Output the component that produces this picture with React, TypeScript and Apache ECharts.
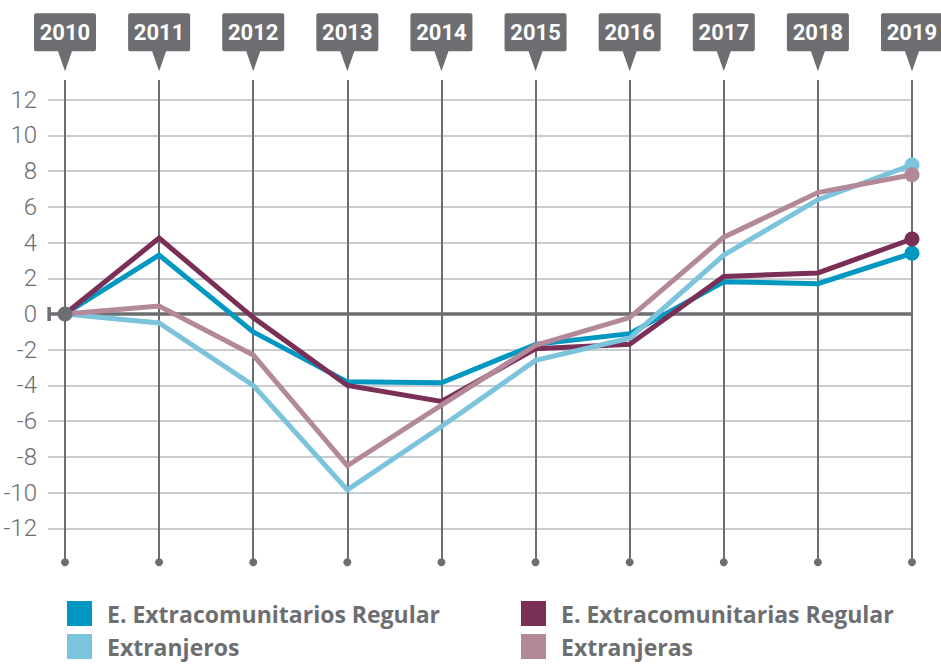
import React, { useEffect, useRef } from "react";
import * as echarts from "echarts";

const years = [2010, 2011, 2012, 2013, 2014, 2015, 2016, 2017, 2018, 2019];
const extracomunitariosRegular = [0, 3.3, -1.0, -3.8, -3.85, -1.7, -1.1, 1.8, 1.7, 3.4];
const extracomunitariasRegular = [0, 4.25, -0.2, -4.0, -4.9, -1.95, -1.7, 2.1, 2.3, 4.2];
const extranjeros = [0, -0.5, -4.0, -9.85, -6.3, -2.6, -1.35, 3.3, 6.4, 8.35];
const extranjeras = [0, 0.45, -2.3, -8.5, -5.1, -1.75, -0.2, 4.3, 6.8, 7.8];
const yTicks = [-12, -10, -8, -6, -4, -2, 0, 2, 4, 6, 8, 10, 12];

const GREY = "#6d6e71";
const LIGHT = "#c9cdd2";
const X_MIN = 2010 - 17 / 94.11;
const X_MAX = 2019;
const V_TOP = 13.1;
const V_BOTTOM = -13.9;
const PIN_Y = 13.6;

const seriesDefs = [
  { name: "E. Extracomunitarios Regular", color: "#0098c1", data: extracomunitariosRegular },
  { name: "E. Extracomunitarias Regular", color: "#7a2f56", data: extracomunitariasRegular },
  { name: "Extranjeros", color: "#7cc3dc", data: extranjeros },
  { name: "Extranjeras", color: "#b38898", data: extranjeras },
];

const legendPos: Record<string, [number, number]> = {
  "E. Extracomunitarios Regular": [62, 596],
  Extranjeros: [62, 629],
  "E. Extracomunitarias Regular": [516, 596],
  Extranjeras: [516, 629],
};

export default function App() {
  const ref = useRef<HTMLDivElement>(null);
  useEffect(() => {
    if (!ref.current) return;
    const chart = echarts.init(ref.current, null, { renderer: "svg" });

    const gridLines = yTicks
      .filter((t) => t !== 0)
      .map((t) => [{ coord: [X_MIN, t] }, { coord: [X_MAX, t] }]);
    const vertLines = years.map((y) => [{ coord: [y, V_TOP] }, { coord: [y, V_BOTTOM] }]);

    const lineSeries = seriesDefs.map((s) => ({
      name: s.name,
      type: "line",
      z: 5,
      symbol: "circle",
      showAllSymbol: true,
      lineStyle: { color: s.color, width: 5, join: "miter" },
      itemStyle: { color: s.color, opacity: 1 },
      data: s.data.map((v, i) =>
        i === s.data.length - 1
          ? { value: [years[i], v], symbol: "circle", symbolSize: 15 }
          : { value: [years[i], v], symbol: "none", symbolSize: 0 }
      ),
    }));

    const legends = seriesDefs.map((s) => ({
      left: legendPos[s.name][0],
      top: legendPos[s.name][1],
      itemWidth: 25,
      itemHeight: 25,
      padding: [5, 5, 0, 5],
      icon: "rect",
      data: [s.name],
      textStyle: {
        color: GREY,
        fontSize: 23,
        lineHeight: 24,
        fontWeight: "bold",
        fontFamily: "'Open Sans', sans-serif",
        padding: [0, 0, 0, 10],
      },
    }));

    chart.setOption({
      animation: false,
      backgroundColor: "#ffffff",
      grid: { left: 48, right: 29, top: 64, bottom: 100 },
      xAxis: {
        type: "value",
        min: X_MIN,
        max: X_MAX,
        show: false,
        splitLine: { show: false },
      },
      yAxis: {
        type: "value",
        min: -14,
        max: 14,
        interval: 2,
        axisLine: { show: false },
        axisTick: { show: false },
        splitLine: { show: false },
        axisLabel: {
          margin: 11,
          color: GREY,
          fontSize: 24,
          fontWeight: 300,
          fontFamily: "Roboto, sans-serif",
          formatter: (v: number) => (yTicks.indexOf(v) >= 0 ? String(v) : ""),
        },
      },
      legend: legends,
      series: [
        {
          name: "hgrid",
          type: "line",
          data: [],
          z: 1,
          markLine: {
            silent: true,
            symbol: "none",
            label: { show: false },
            lineStyle: { color: LIGHT, width: 2, type: "solid" },
            data: gridLines,
          },
        },
        {
          name: "vgrid",
          type: "line",
          data: [],
          z: 2,
          markLine: {
            silent: true,
            symbol: "none",
            label: { show: false },
            lineStyle: { color: GREY, width: 2, type: "solid" },
            data: vertLines,
          },
        },
        {
          name: "zero",
          type: "line",
          data: [],
          z: 3,
          markLine: {
            silent: true,
            symbol: "none",
            label: { show: false },
            lineStyle: { color: GREY, width: 3.5, type: "solid" },
            data: [[{ coord: [X_MIN, 0] }, { coord: [X_MAX, 0] }]],
          },
        },
        {
          name: "zeroCap",
          type: "scatter",
          z: 3,
          symbol: "rect",
          symbolSize: [3.5, 14],
          itemStyle: { color: GREY, opacity: 1 },
          data: [[X_MIN + 0.012, 0]],
        },
        {
          name: "dots",
          type: "scatter",
          z: 3,
          symbol: "circle",
          symbolSize: 8,
          itemStyle: { color: GREY, opacity: 1 },
          data: years.map((y) => [y, V_BOTTOM]),
        },
        {
          name: "pins",
          type: "scatter",
          z: 4,
          clip: false,
          symbol: "path://M2,0 H60 Q62,0 62,2 V36 Q62,38 60,38 H38 L31,58 L24,38 H2 Q0,38 0,36 V2 Q0,0 2,0 Z",
          symbolSize: [62, 58],
          symbolOffset: [0, "-50%"],
          itemStyle: { color: GREY, opacity: 1 },
          label: {
            show: true,
            position: "inside",
            offset: [0, -10],
            color: "#ffffff",
            fontSize: 22,
            fontWeight: "bold",
            fontFamily: "Roboto, sans-serif",
            formatter: (p: any) => String(p.value[0]),
          },
          data: years.map((y) => [y, PIN_Y]),
        },
        ...lineSeries,
        {
          name: "origin",
          type: "scatter",
          z: 6,
          symbol: "circle",
          symbolSize: 15,
          itemStyle: { color: GREY, opacity: 1 },
          data: [[years[0], 0]],
        },
      ],
    });
    return () => chart.dispose();
  }, []);
  return (
    <div
      ref={ref}
      style={{ position: "fixed", left: 0, top: 0, width: 941, height: 664 }}
    />
  );
}
